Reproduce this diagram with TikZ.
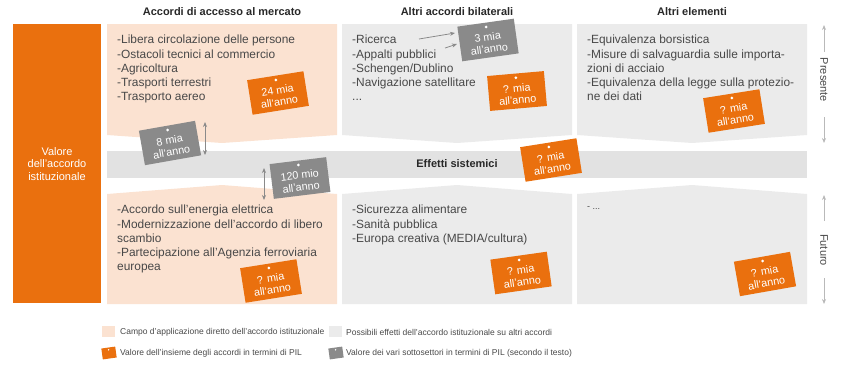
\documentclass[tikz,border=0pt]{standalone}
\usepackage{fontspec}
\setmainfont{Liberation Sans}
\usetikzlibrary{arrows.meta,calc}

\definecolor{euorange}{RGB}{234,112,14}
\definecolor{peach}{RGB}{251,226,209}
\definecolor{boxgray}{RGB}{235,235,235}
\definecolor{bandgray}{RGB}{226,226,226}
\definecolor{taggray}{RGB}{138,138,138}
\definecolor{textgray}{RGB}{72,72,72}
\definecolor{headgray}{RGB}{40,40,40}
\definecolor{axisgray}{RGB}{185,185,185}

\tikzset{
  items/.style={anchor=north west, align=left, inner sep=0pt, text=textgray,
    font=\fontsize{11.9}{14.2}\selectfont},
  head/.style={font=\bfseries\fontsize{11}{13}\selectfont, text=headgray},
  tag/.style={fill=#1, text=white, minimum width=57pt, minimum height=35pt,
    inner sep=0pt, align=center, text height=26pt, text depth=0pt,
    font=\fontsize{10.8}{12}\selectfont},
  minitag/.style={fill=#1, minimum width=14pt, minimum height=11pt, inner sep=0pt},
  legend/.style={anchor=west, inner sep=0pt, text=textgray,
    font=\fontsize{8.5}{10}\selectfont},
  pointer/.style={draw=taggray, line width=0.8pt, -{Stealth[length=5pt,width=4pt]}},
  span/.style={draw=taggray, line width=0.8pt,
    {Stealth[length=5pt,width=4pt]}-{Stealth[length=5pt,width=4pt]}},
  timeline/.style={draw=axisgray, line width=0.7pt, -{Stealth[length=5pt,width=4pt]}},
}

% price tag with its hole: name, colour, position, angle, text
\newcommand{\pricetag}[5]{%
  \node[tag=#2, rotate=#4] (#1) at (#3) {#5};
  \fill[white] ($(#1.north)!4.5pt!(#1.south)$) circle (1.5pt);
}

\begin{document}
\begin{tikzpicture}[x=1pt,y=-1pt]
  \useasboundingbox (0,0) rectangle (843,365);

  % left column
  \fill[euorange] (13,24) rectangle (101,303);
  \node[text=white, align=center, font=\fontsize{11}{12.5}\selectfont] (valore) at (57,164)
    {Valore\\dell’accordo\\istituzionale};

  % column heads
  \node[head] (h1) at (222,12) {Accordi di accesso al mercato};
  \node[head] (h2) at (457,12) {Altri accordi bilaterali};
  \node[head] (h3) at (692,12) {Altri elementi};

  % present boxes
  \fill[peach] (107,24) -- (337,24) -- (337,135) -- (222,143) -- (107,135) -- cycle;
  \fill[boxgray] (342,24) -- (572,24) -- (572,135) -- (457,143) -- (342,135) -- cycle;
  \fill[boxgray] (577,24) -- (807,24) -- (807,135) -- (692,143) -- (577,135) -- cycle;

  % systemic band
  \fill[bandgray] (107,151) rectangle (807,178);
  \node[head] (effetti) at (457,164) {Effetti sistemici};

  % future boxes
  \fill[peach] (107,194) -- (222,185) -- (337,194) -- (337,304) -- (107,304) -- cycle;
  \fill[boxgray] (342,194) -- (457,185) -- (572,194) -- (572,304) -- (342,304) -- cycle;
  \fill[boxgray] (577,194) -- (692,185) -- (807,194) -- (807,304) -- (577,304) -- cycle;

  % texts
  \node[items] (mercato) at (117,35) {-Libera circolazione delle persone\\-Ostacoli tecnici al commercio\\-Agricoltura\\-Trasporti terrestri\\-Trasporto aereo};
  \node[items] (bilat) at (352,35) {-Ricerca\\-Appalti pubblici\\-Schengen/Dublino\\-Navigazione satellitare\\...};
  \node[items] (altri) at (587,35) {-Equivalenza borsistica\\-Misure di salvaguardia sulle importa-\\zioni di acciaio\\-Equivalenza della legge sulla protezio-\\ne dei dati};
  \node[items] (futmerc) at (117,205) {-Accordo sull’energia elettrica\\-Modernizzazione dell’accordo di libero\\scambio\\-Partecipazione all’Agenzia ferroviaria\\europea};
  \node[items] (futbilat) at (352,205) {-Sicurezza alimentare\\-Sanità pubblica\\-Europa creativa (MEDIA/cultura)};
  \node[items, font=\fontsize{9}{11}\selectfont] (futaltri) at (587,207) {- ...};

  % price tags
  \pricetag{t24}{euorange}{278,93}{9}{24 mia\\all’anno}
  \pricetag{t8}{taggray}{170,143}{10}{8 mia\\all’anno}
  \pricetag{t3}{taggray}{488,40}{8}{3 mia\\all’anno}
  \pricetag{tbil}{euorange}{517,91}{5}{? mia\\all’anno}
  \pricetag{tsys}{euorange}{551,160}{9}{? mia\\all’anno}
  \pricetag{talt}{euorange}{734,111}{9}{? mia\\all’anno}
  \pricetag{t120}{taggray}{300,178}{7}{120 mio\\all’anno}
  \pricetag{tfm}{euorange}{271,281}{9}{? mia\\all’anno}
  \pricetag{tfb}{euorange}{521,273}{8}{? mia\\all’anno}
  \pricetag{tfa}{euorange}{765,274}{10}{? mia\\all’anno}

  % connectors
  \coordinate (ric) at (419,39);
  \coordinate (ricend) at (455,33);
  \coordinate (app) at (445,48);
  \coordinate (append) at (457,44);
  \draw[pointer] (ric) -- (ricend);
  \draw[pointer] (app) -- (append);
  \coordinate (s8a) at (205,122);
  \coordinate (s8b) at (205,155);
  \draw[span] (s8a) -- (s8b);
  \coordinate (s120a) at (264,168);
  \coordinate (s120b) at (264,200);
  \draw[span] (s120a) -- (s120b);

  % time axis
  \node[rotate=-90, text=textgray, font=\fontsize{11}{13}\selectfont] (presente) at (824,80) {Presente};
  \coordinate (pa) at (824,52);
  \coordinate (pb) at (824,117);
  \draw[timeline] (pa) -- (824,25);
  \draw[timeline] (pb) -- (824,143);
  \node[rotate=-90, text=textgray, font=\fontsize{11}{13}\selectfont] (futuro) at (824,250) {Futuro};
  \coordinate (fa) at (824,221);
  \coordinate (fb) at (824,278);
  \draw[timeline] (fa) -- (824,195);
  \draw[timeline] (fb) -- (824,304);

  % legend
  \fill[peach] (102,326) rectangle (115,337);
  \node[legend] (l1) at (120,332) {Campo d’applicazione diretto dell’accordo istituzionale};
  \fill[boxgray] (329,326) rectangle (342,337);
  \node[legend] (l2) at (346,332) {Possibili effetti dell’accordo istituzionale su altri accordi};
  \node[minitag=euorange, rotate=8] (m1) at (109,353) {};
  \fill[white] ($(m1.north)!2.5pt!(m1.south)$) circle (0.8pt);
  \node[legend] (l3) at (120,353) {Valore dell’insieme degli accordi in termini di PIL};
  \node[minitag=taggray, rotate=8] (m2) at (336,353) {};
  \fill[white] ($(m2.north)!2.5pt!(m2.south)$) circle (0.8pt);
  \node[legend] (l4) at (346,353) {Valore dei vari sottosettori in termini di PIL (secondo il testo)};
\end{tikzpicture}
\end{document}
